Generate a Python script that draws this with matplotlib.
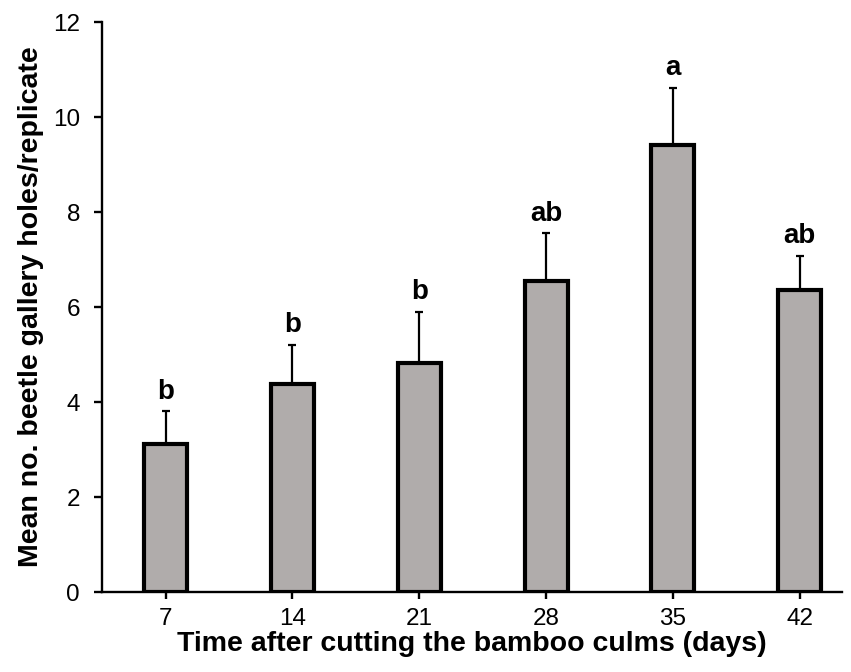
import numpy as np
import matplotlib
matplotlib.use("Agg")
import matplotlib.pyplot as plt

plt.rcParams['font.family'] = ['Liberation Sans', 'DejaVu Sans']

# Data
days = ['7', '14', '21', '28', '35', '42']
means = [3.11, 4.39, 4.83, 6.56, 9.41, 6.37]
errors = [0.70, 0.82, 1.07, 0.99, 1.21, 0.71]
letters = ['b', 'b', 'b', 'ab', 'a', 'ab']

x = np.arange(len(days))

fig = plt.figure(figsize=(8.51, 6.72), dpi=100)
ax = fig.add_axes([0.12, 0.119, 0.869, 0.848])

ax.bar(x, means, width=0.34, color='#b0acab', edgecolor='black', linewidth=3, zorder=2)
ax.errorbar(x, means, yerr=[np.zeros(len(means)), errors], fmt='none',
            ecolor='black', elinewidth=1.6, capsize=2.6, capthick=1.6, zorder=1)

# significance letters just above the error caps
for xi, m, e, lab in zip(x, means, errors, letters):
    ax.annotate(lab, (xi, m + e), xytext=(0, 9), textcoords='offset points',
                ha='center', va='baseline', fontsize=20, fontweight='bold')

ax.set_xlim(-0.5, 5.33)
ax.set_ylim(0, 12)
ax.set_yticks(np.arange(0, 13, 2))
ax.set_xticks(x)
ax.set_xticklabels(days)

ax.spines['top'].set_visible(False)
ax.spines['right'].set_visible(False)
ax.spines['left'].set_linewidth(1.7)
ax.spines['bottom'].set_linewidth(1.7)
ax.tick_params(axis='both', direction='out', width=1.7, labelsize=17.5)
ax.tick_params(axis='y', length=6, pad=10)
ax.tick_params(axis='x', length=5, pad=6.5)

ax.set_xlabel('Time after cutting the bamboo culms (days)', fontsize=20.5, fontweight='bold', labelpad=1)
ax.set_ylabel('Mean no. beetle gallery holes/replicate', fontsize=20.5, fontweight='bold', labelpad=6)

fig.savefig('out.png', dpi=100)
